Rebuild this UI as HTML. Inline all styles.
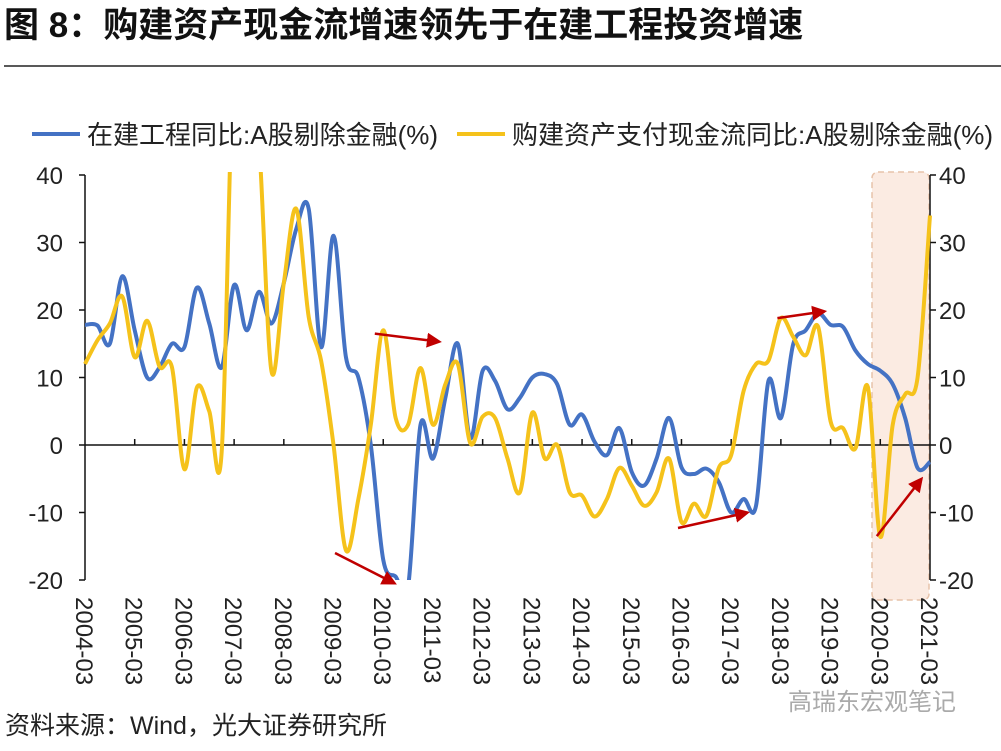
<!DOCTYPE html>
<html><head><meta charset="utf-8"><style>
body{margin:0;background:#fff;width:1001px;height:746px;overflow:hidden;font-family:"Liberation Sans","Noto Sans CJK SC",sans-serif}
svg text{font-family:"Liberation Sans","Noto Sans CJK SC",sans-serif}
</style></head><body>
<svg width="1001" height="746" viewBox="0 0 1001 746">
<text x="4" y="37" font-size="35" font-weight="bold" fill="#111">图 8：购建资产现金流增速领先于在建工程投资增速</text>
<line x1="4" y1="66" x2="1001" y2="66" stroke="#222" stroke-width="1.5"/>
<g>
<line x1="32" y1="134" x2="80" y2="134" stroke="#4472c4" stroke-width="4"/>
<text x="87" y="144" font-size="26" fill="#222">在建工程同比:A股剔除金融(%)</text>
<line x1="457" y1="134" x2="505" y2="134" stroke="#f5c21b" stroke-width="4"/>
<text x="512" y="144" font-size="26" fill="#222">购建资产支付现金流同比:A股剔除金融(%)</text>
</g>
<rect x="872" y="172" width="57" height="428" rx="6" fill="#fbebe2" stroke="#e7c3aa" stroke-dasharray="6,4" stroke-width="1.5"/>
<g id="axes"></g>
<g id="series"></g>
<g id="arrows"></g>
<text x="5" y="734" font-size="25" fill="#222">资料来源：Wind，光大证券研究所</text>
<text x="788" y="710" font-size="24" fill="#aaa">高瑞东宏观笔记</text>
<defs><clipPath id="clip"><rect x="80" y="172" width="860" height="408"/></clipPath>
<marker id="ah" markerWidth="6" markerHeight="6" refX="5" refY="3" orient="auto"><path d="M0,0 L6,3 L0,6 z" fill="#c00000"/></marker></defs>
</svg>
<script>
const yearLabels=["2004-03","2005-03","2006-03","2007-03","2008-03","2009-03","2010-03","2011-03","2012-03","2013-03","2014-03","2015-03","2016-03","2017-03","2018-03","2019-03","2020-03","2021-03"];
const yTicks=[40,30,20,10,0,-10,-20];
const blueValues=[17.8,17.7,15,25,17,10,11.5,15,14.5,23.3,18,11.5,23.7,17,22.7,18,24,32,35,14.5,31,13,10,0,-17,-19.5,-21,3,-2,7,15,1,11,9.5,5.3,7,10,10.5,9,3,4.5,0.5,-1.5,2.5,-4,-6,-2,4,-3.3,-4.3,-3.5,-5.5,-10,-8,-9,9.5,4,15,17,19.5,17.8,17.5,14,12,11,9,4,-3.4,-2.5];
const yellowValues=[12,15.5,18,22,13,18.4,11.6,11.5,-3.6,8.5,5,-1,60,60,45,11,24,35,19,12.5,0,-15.6,-8,3,17,4,3,11.4,3,9,12,0.3,4.2,4,-2,-7,4.8,-2,0,-7,-7.5,-10.6,-8,-3.4,-6,-9,-7,-2,-11.4,-8.7,-10.5,-3.4,-1.5,8,12,12.5,18.8,16,13.3,17.5,3.5,2.5,-0.5,8.6,-13.6,3,7.5,10,34];
const arrowsData=[[2010.0,16.5,2011.3,15.3],[2009.2,-16,2010.4,-20.5],[2016.1,-12.3,2017.5,-10],[2018.1,18.8,2019.05,19.8],[2020.1,-13.5,2021.0,-5]];
const NS="http://www.w3.org/2000/svg";
const X0=85,X1=930,Y0=445,YS=6.75;
const xq=i=>X0+(X1-X0)*i/68;
const xy=yr=>X0+(X1-X0)*(yr-2004.17)/17;
const yv=v=>Y0-v*YS;
function mk(t,a,p){const e=document.createElementNS(NS,t);for(const k in a)e.setAttribute(k,a[k]);p.appendChild(e);return e;}
const ax=document.getElementById('axes');
let e=mk('line',{x1:X0,y1:yv(40),x2:X0,y2:yv(-20),stroke:'#111','stroke-width':1.5},ax);


e=mk('line',{x1:X1,y1:yv(40),x2:X1,y2:yv(-20),stroke:'#111','stroke-width':1.5},ax);


e=mk('line',{x1:X0,y1:Y0,x2:X1,y2:Y0,stroke:'#111','stroke-width':1.5},ax);


yTicks.forEach(t=>{
 mk('line',{x1:X0-6,y1:yv(t),x2:X0,y2:yv(t),stroke:'#111','stroke-width':1.5},ax);
 mk('line',{x1:X1,y1:yv(t),x2:X1+6,y2:yv(t),stroke:'#111','stroke-width':1.5},ax);
 let l=mk('text',{x:X0-22,y:yv(t)+9,'font-size':24,'text-anchor':'end',fill:'#222'},ax);l.textContent=t;
 
 
 let r=mk('text',{x:X1+9,y:yv(t)+9,'font-size':24,fill:'#222'},ax);r.textContent=t;
 
 
});
yearLabels.forEach((s,i)=>{
 const x=xq(i*4);
 if(i>0&&i<17)mk('line',{x1:x,y1:Y0-6,x2:x,y2:Y0,stroke:'#111','stroke-width':1.5},ax);
 let t=mk('text',{x:0,y:0,'font-size':24,fill:'#222',transform:`translate(${x-9},597) rotate(90)`},ax);t.textContent=s;
 
 
});
function path(vals){
 const p=vals.map((v,i)=>[xq(i),yv(v)]);
 let d=`M${p[0][0]},${p[0][1]}`;
 for(let i=0;i<p.length-1;i++){
  const a=p[Math.max(0,i-1)],b=p[i],c=p[i+1],dd=p[Math.min(p.length-1,i+2)];
  d+=` C${b[0]+(c[0]-a[0])/6},${b[1]+(c[1]-a[1])/6} ${c[0]-(dd[0]-b[0])/6},${c[1]-(dd[1]-b[1])/6} ${c[0]},${c[1]}`;
 }return d;
}
const sg=document.getElementById('series');
e=mk('path',{d:path(blueValues),fill:'none',stroke:'#4472c4','stroke-width':4,'clip-path':'url(#clip)'},sg);


e=mk('path',{d:path(yellowValues),fill:'none',stroke:'#f5c21b','stroke-width':4,'clip-path':'url(#clip)'},sg);


const ag=document.getElementById('arrows');
arrowsData.forEach(a=>{
 let l=mk('line',{x1:xy(a[0]),y1:yv(a[1]),x2:xy(a[2]),y2:yv(a[3]),stroke:'#c00000','stroke-width':2.5,'marker-end':'url(#ah)'},ag);
 
 
});
</script>
</body></html>
